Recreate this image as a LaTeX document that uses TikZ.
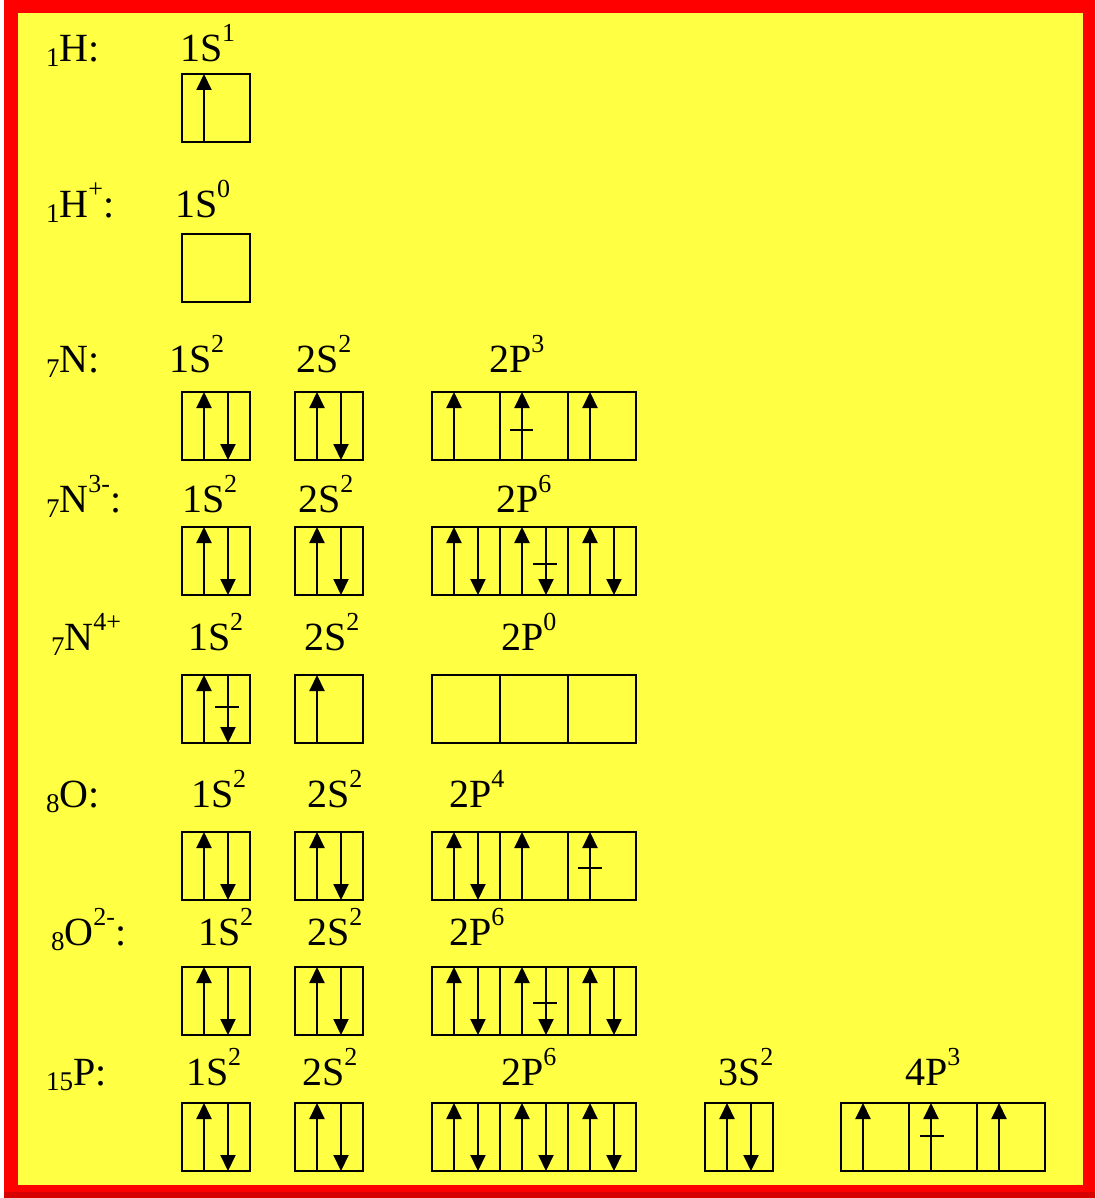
\documentclass[tikz,border=0pt]{standalone}
\usepackage{fontspec}
\setmainfont{Liberation Serif}
\usetikzlibrary{arrows.meta}
\definecolor{bgyellow}{RGB}{255,255,68}
\definecolor{framered}{RGB}{255,0,0}
\definecolor{shadowred}{RGB}{215,0,0}

\newcommand\sps[1]{\raisebox{20pt}{\fontsize{26}{26}\selectfont #1}}
\newcommand\sbs[1]{\raisebox{-5pt}{\fontsize{27}{27}\selectfont #1}}

\tikzset{
  lbl/.style={font=\fontsize{40}{42}\selectfont, inner sep=0pt, outer sep=0pt, anchor=base west},
  cellbox/.style={draw, line width=2pt, minimum width=68pt, minimum height=68pt, inner sep=0pt, outer sep=0pt, anchor=north west},
  spin/.style={line width=2pt, -{Triangle[width=15pt,length=16pt]}},
  tickline/.style={line width=1.6pt},
}

\newcommand\cel[3]{\node[cellbox] (#1) at (#2,#3) {};}
\newcommand\su[1]{\draw[spin] ([xshift=22pt]#1.south west) -- ([xshift=22pt]#1.north west);}
\newcommand\sd[1]{\draw[spin] ([xshift=46pt]#1.north west) -- ([xshift=46pt]#1.south west);}
\newcommand\tk[3]{\draw[tickline] (#1,#3) -- (#2,#3);}

\begin{document}
\begin{tikzpicture}[x=1pt,y=-1pt]
\useasboundingbox (0,0) rectangle (1095,1198);
% frame
\fill[white] (0,0) rectangle (1095,1198);
\fill[framered] (4,0) rectangle (1095,1198);
\fill[shadowred] (4,1192) rectangle (1095,1198);
\fill[bgyellow] (18,13) rectangle (1083,1185);

% ---------- labels ----------
% H
\node[lbl] (hlab)  at (46,62) {\sbs{1}H:};
\node[lbl] (h1sl)  at (180,62) {1S\sps{1}};
% H+
\node[lbl] (hplab) at (46,218) {\sbs{1}H\sps{+}:};
\node[lbl] (hp1sl) at (175,218) {1S\sps{0}};
% N
\node[lbl] (nlab)  at (46,372) {\sbs{7}N:};
\node[lbl] (n1sl)  at (169,372) {1S\sps{2}};
\node[lbl] (n2sl)  at (296,372) {2S\sps{2}};
\node[lbl] (n2pl)  at (489,372) {2P\sps{3}};
% N3-
\node[lbl] (nmlab) at (46,512) {\sbs{7}N\sps{3-}:};
\node[lbl] (nm1sl) at (182,512) {1S\sps{2}};
\node[lbl] (nm2sl) at (298,512) {2S\sps{2}};
\node[lbl] (nm2pl) at (496,512) {2P\sps{6}};
% N4+
\node[lbl] (nplab) at (51,650) {\sbs{7}N\sps{4+}};
\node[lbl] (np1sl) at (188,650) {1S\sps{2}};
\node[lbl] (np2sl) at (304,650) {2S\sps{2}};
\node[lbl] (np2pl) at (501,650) {2P\sps{0}};
% O
\node[lbl] (olab)  at (46,807) {\sbs{8}O:};
\node[lbl] (o1sl)  at (191,807) {1S\sps{2}};
\node[lbl] (o2sl)  at (307,807) {2S\sps{2}};
\node[lbl] (o2pl)  at (449,807) {2P\sps{4}};
% O2-
\node[lbl] (omlab) at (51,945) {\sbs{8}O\sps{2-}:};
\node[lbl] (om1sl) at (198,945) {1S\sps{2}};
\node[lbl] (om2sl) at (307,945) {2S\sps{2}};
\node[lbl] (om2pl) at (449,945) {2P\sps{6}};
% P
\node[lbl] (plab)  at (46,1085) {\sbs{15}P:};
\node[lbl] (p1sl)  at (186,1085) {1S\sps{2}};
\node[lbl] (p2sl)  at (302,1085) {2S\sps{2}};
\node[lbl] (p2pl)  at (501,1085) {2P\sps{6}};
\node[lbl] (p3sl)  at (718,1085) {3S\sps{2}};
\node[lbl] (p4pl)  at (905,1085) {4P\sps{3}};

% ---------- boxes ----------
\cel{h1s}{182}{74}
\cel{hp1s}{182}{234}
\foreach \r/\y in {n/392, nm/527, np/675, o/832, om/967, p/1103}{
  \cel{\r1s}{182}{\y}
  \cel{\r2s}{295}{\y}
  \cel{\r2pa}{432}{\y}
  \cel{\r2pb}{500}{\y}
  \cel{\r2pc}{568}{\y}
}
\cel{p3s}{705}{1103}
\cel{p4pa}{841}{1103}
\cel{p4pb}{909}{1103}
\cel{p4pc}{977}{1103}

% ---------- spins ----------
% H
\su{h1s}
% N
\su{n1s}\sd{n1s}
\su{n2s}\sd{n2s}
\su{n2pa}\su{n2pb}\su{n2pc}
\tk{510}{533}{430}
% N3-
\su{nm1s}\sd{nm1s}
\su{nm2s}\sd{nm2s}
\su{nm2pa}\sd{nm2pa}\su{nm2pb}\sd{nm2pb}\su{nm2pc}\sd{nm2pc}
\tk{533}{557}{564}
% N4+
\su{np1s}\sd{np1s}
\su{np2s}
\tk{215}{239}{707}
% O
\su{o1s}\sd{o1s}
\su{o2s}\sd{o2s}
\su{o2pa}\sd{o2pa}\su{o2pb}\su{o2pc}
\tk{578}{602}{868}
% O2-
\su{om1s}\sd{om1s}
\su{om2s}\sd{om2s}
\su{om2pa}\sd{om2pa}\su{om2pb}\sd{om2pb}\su{om2pc}\sd{om2pc}
\tk{533}{557}{1003}
% P
\su{p1s}\sd{p1s}
\su{p2s}\sd{p2s}
\su{p2pa}\sd{p2pa}\su{p2pb}\sd{p2pb}\su{p2pc}\sd{p2pc}
\su{p3s}\sd{p3s}
\su{p4pa}\su{p4pb}\su{p4pc}
\tk{920}{944}{1136}
\end{tikzpicture}
\end{document}
